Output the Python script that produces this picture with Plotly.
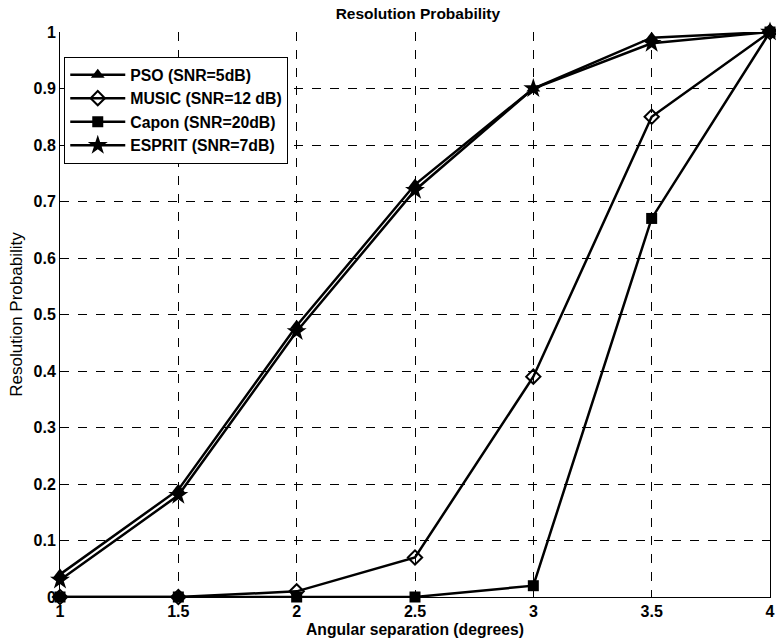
import plotly.graph_objects as go

angles = [1, 1.5, 2, 2.5, 3, 3.5, 4]
pso = [0.04, 0.19, 0.48, 0.73, 0.90, 0.99, 1.0]
music = [0.0, 0.0, 0.01, 0.07, 0.39, 0.85, 1.0]
capon = [0.0, 0.0, 0.0, 0.0, 0.02, 0.67, 1.0]
esprit = [0.03, 0.18, 0.47, 0.72, 0.90, 0.98, 1.0]

x_ticks = [1, 1.5, 2, 2.5, 3, 3.5, 4]
x_labels = ["1", "1.5", "2", "2.5", "3", "3.5", "4"]
y_ticks = [0, 0.1, 0.2, 0.3, 0.4, 0.5, 0.6, 0.7, 0.8, 0.9, 1]
y_labels = ["0", "0.1", "0.2", "0.3", "0.4", "0.5", "0.6", "0.7", "0.8", "0.9", "1"]
names = ["PSO (SNR=5dB)", "MUSIC (SNR=12 dB)", "Capon (SNR=20dB)", "ESPRIT (SNR=7dB)"]

fig = go.Figure()
markers = [
    dict(symbol="triangle-up", size=12, color="black"),
    dict(symbol="diamond-open", size=11, color="black", line=dict(width=2, color="black")),
    dict(symbol="square", size=11, color="black"),
    dict(symbol="star", size=15, color="black"),
]
for name, ys, mk in zip(names, [pso, music, capon, esprit], markers):
    fig.add_trace(go.Scatter(x=angles, y=ys, name="<b>%s</b>" % name, mode="lines+markers",
                             line=dict(color="black", width=2.5), marker=mk,
                             cliponaxis=False))

font = "Liberation Sans, Arial, sans-serif"
fig.update_layout(
    width=776, height=643,
    margin=dict(l=60, r=6, t=32, b=46),
    paper_bgcolor="white", plot_bgcolor="white",
    font=dict(family=font, color="black", size=15),
    title=dict(text="<b>Resolution Probability</b>", x=0.5385, xanchor="center",
               y=0.9785, yanchor="middle", font=dict(size=15.5)),
    showlegend=True,
    legend=dict(x=0.006, y=0.956, xanchor="left", yanchor="top",
                bgcolor="white", bordercolor="black", borderwidth=1,
                font=dict(size=15.8, family=font), itemwidth=55,
                tracegroupgap=0),
    xaxis=dict(range=[1, 4], tickvals=x_ticks, ticktext=["<b>%s</b>" % t for t in x_labels],
               showgrid=True, gridcolor="black", griddash="dash", gridwidth=0.6,
               zeroline=False, showline=True, linecolor="black", linewidth=1,
               ticks="", ticklen=0, tickfont=dict(size=16), ticklabeloverflow="allow",
               automargin=False,
               title=dict(text="<b>Angular separation (degrees)</b>", font=dict(size=15.7), standoff=4)),
    yaxis=dict(range=[0, 1], tickvals=y_ticks, ticktext=["<b>%s</b>" % t for t in y_labels],
               showgrid=True, gridcolor="black", griddash="dash", gridwidth=0.6,
               zeroline=False, showline=True, linecolor="black", linewidth=1,
               ticks="", ticklen=0, mirror=True, tickfont=dict(size=16), automargin=False,
               title=dict(text="Resolution Probability", font=dict(size=17), standoff=6)),
)
fig.write_html("out.html", config={"displayModeBar": False})

with open("out.html", "r", encoding="utf-8") as f:
    html = f.read()
html = html.replace("<head>", "<head><style>html,body{margin:0;padding:0;overflow:hidden;}</style>", 1)
with open("out.html", "w", encoding="utf-8") as f:
    f.write(html)
